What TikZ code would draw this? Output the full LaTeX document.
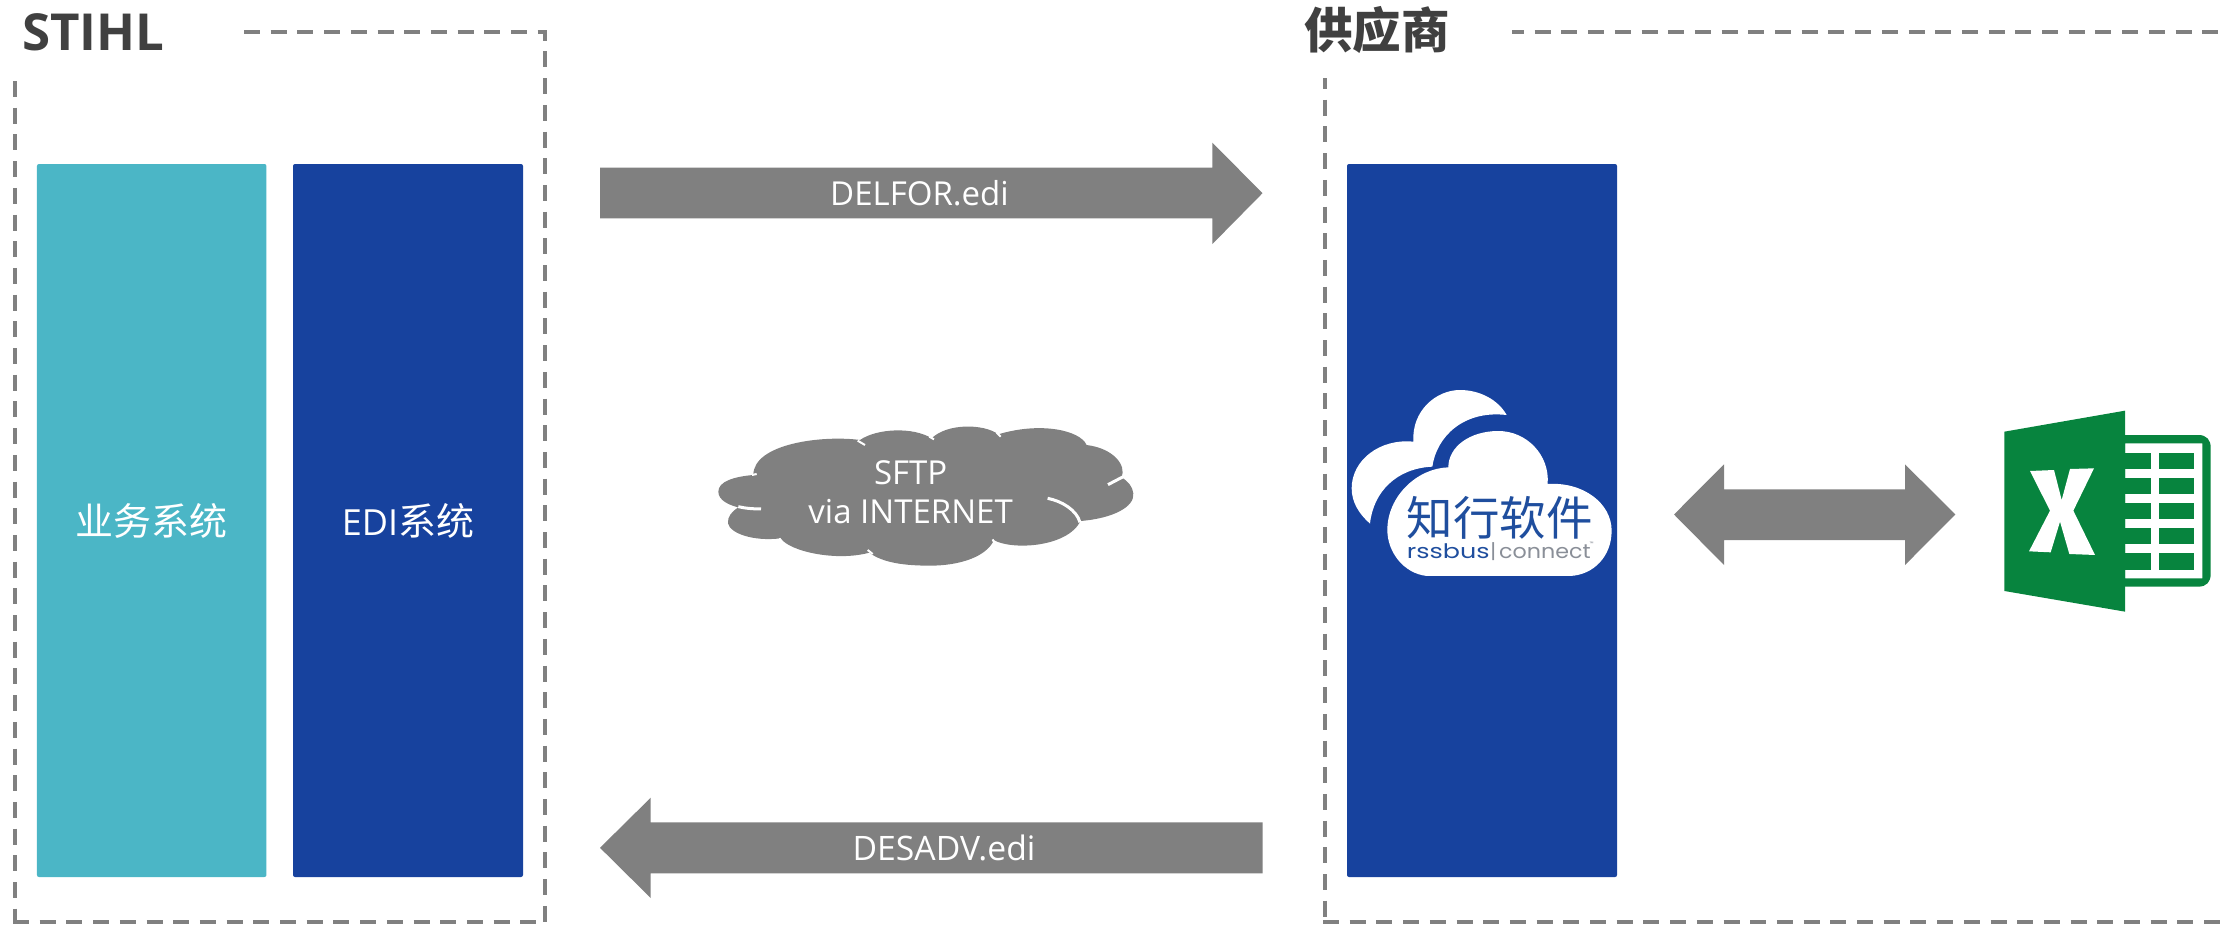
\documentclass[tikz,border=0pt]{standalone}
\usepackage{fontspec}
\setmainfont{Open Sans}
\newfontfamily\cjk{Noto Sans CJK SC}
\newfontfamily\logofont{Poppins}
\definecolor{frameGrey}{HTML}{808080}
\definecolor{titleGrey}{HTML}{404040}
\definecolor{tealBox}{HTML}{4BB6C6}
\definecolor{navyBox}{HTML}{17429E}
\definecolor{xlGreen}{HTML}{07843E}
\definecolor{logoBlue}{HTML}{1F4E9E}
\definecolor{logoGrey}{HTML}{8A8F98}
\tikzset{
  frameline/.style={draw=frameGrey,line width=4pt,dash pattern=on 16pt off 10.7pt},
  sysbox/.style={rounded corners=2pt,inner sep=0pt,text=white,font=\cjk\fontsize{38}{44}\selectfont},
  flowarrow/.style={fill=frameGrey,draw=none},
  arrowlabel/.style={anchor=base,text=white,inner sep=0pt,font=\fontsize{33}{40}\selectfont},
  titlelabel/.style={anchor=base west,inner sep=0pt,text=titleGrey},
  slit/.style={draw=white,line width=3pt},
  nick/.style={draw=white,line width=2pt},
  logotext/.style={inner sep=0pt,anchor=base west,font=\logofont\fontsize{20}{24}\selectfont}
}
\begin{document}
\begin{tikzpicture}[x=1pt,y=-1pt]
\useasboundingbox (0,0) rectangle (2221,924);
% frames
\draw[frameline] (244,32) -- (545,32) -- (545,922);
\draw[frameline] (15,81) -- (15,922);
\draw[frameline] (13,922) -- (540,922);
\draw[frameline,dash phase=4pt] (1512,32) -- (2221,32);
\draw[frameline,dash phase=5pt] (1325,78) -- (1325,920);
\draw[frameline] (1323,922) -- (2221,922);
% titles
\node[titlelabel,font=\bfseries\fontsize{51}{60}\selectfont] (stihl) at (22,50) {STIHL};
\node[titlelabel,font=\cjk\bfseries\fontsize{48.5}{56}\selectfont] (supplier) at (1304,48) {供应商};
% boxes
\node[sysbox,fill=tealBox,minimum width=229.5pt,minimum height=713pt] (biz) at (151.7,520.5) {业务系统};
\node[sysbox,fill=navyBox,minimum width=230pt,minimum height=713pt] (edi) at (408,520.5) {\fontspec{Open Sans}\fontsize{36}{44}\selectfont EDI\cjk\fontsize{38}{44}\selectfont 系统};
\node[sysbox,fill=navyBox,minimum width=270pt,minimum height=713pt] (conn) at (1482,520.5) {};
% arrows
\fill[flowarrow] (600,167.7) -- (1212.4,167.7) -- (1212.4,142.7) -- (1262.5,193.2) -- (1212.4,244) -- (1212.4,218.3) -- (600,218.3) -- cycle;
\node[arrowlabel] (delfor) at (919.5,205.7) {DELFOR.edi};
\fill[flowarrow] (1262.5,822.3) -- (650.7,822.3) -- (650.7,797.7) -- (600,847.8) -- (650.7,898) -- (650.7,873.3) -- (1262.5,873.3) -- cycle;
\node[arrowlabel,font=\fontsize{33.7}{40}\selectfont] (desadv) at (944,860) {DESADV.edi};
\fill[flowarrow] (1674,514.5) -- (1724,464.3) -- (1724,489.3) -- (1905,489.3) -- (1905,464.3) -- (1955.3,514.5) -- (1905,565) -- (1905,540) -- (1724,540) -- (1724,565) -- cycle;
% internet cloud
\begin{scope}[shift={(690,400)},x=0.3333pt,y=-0.3333pt]
\fill[frameGrey]
 (190,225) .. controls (130,230) and (85,245) .. (85,275)
 .. controls (85,300) and (115,315) .. (145,322)
 .. controls (125,335) and (112,350) .. (114,370)
 .. controls (120,400) and (190,425) .. (272,415)
 .. controls (300,455) and (440,485) .. (538,458)
 .. controls (580,490) and (650,497) .. (720,497)
 .. controls (810,497) and (890,470) .. (912,420)
 .. controls (960,450) and (1130,445) .. (1172,363)
 .. controls (1270,355) and (1335,320) .. (1330,280)
 .. controls (1328,260) and (1315,245) .. (1295,232)
 .. controls (1310,195) and (1270,145) .. (1190,135)
 .. controls (1170,90) and (1050,65) .. (925,103)
 .. controls (880,70) and (770,70) .. (725,115)
 .. controls (670,80) and (560,85) .. (510,120)
 .. controls (400,105) and (190,130) .. (190,225) -- cycle;
\draw[slit] (145,320) .. controls (165,325) and (190,327) .. (213,327);
\draw[slit] (1073,295) .. controls (1115,303) and (1160,330) .. (1170,367);
\draw[slit] (1254,254) -- (1298,231);
\draw[nick] (503,122) -- (525,135);
\draw[nick] (186,225) -- (200,222);
\draw[nick] (718,110) -- (732,118);
\draw[nick] (920,98) -- (932,110);
\draw[nick] (268,415) -- (280,432);
\draw[nick] (533,450) -- (548,462);
\draw[nick] (908,418) -- (918,438);
\node[text=white,inner sep=0pt,anchor=base,font=\fontsize{33}{40}\selectfont] (sftp) at (662,255) {SFTP};
\node[text=white,inner sep=0pt,anchor=base,font=\fontsize{33}{40}\selectfont] (via) at (662,372) {via INTERNET};
\end{scope}
% connector logo
\begin{scope}[shift={(1300,360)},x=0.3333pt,y=-0.3333pt]
\fill[white] (340,245) .. controls (335,150) and (410,90) .. (480,90)
 .. controls (540,90) and (595,120) .. (620,165)
 .. controls (490,150) and (410,230) .. (397,320)
 .. controls (290,325) and (220,395) .. (210,491)
 .. controls (175,460) and (155,425) .. (155,385)
 .. controls (155,300) and (240,235) .. (340,245) -- cycle;
\fill[white] (380,648) .. controls (310,640) and (262,575) .. (262,510)
 .. controls (262,410) and (350,325) .. (445,322)
 .. controls (445,260) and (510,213) .. (595,213)
 .. controls (680,213) and (750,285) .. (743,372)
 .. controls (850,365) and (935,430) .. (935,512)
 .. controls (935,590) and (880,645) .. (810,648) -- cycle;
\node[inner sep=0pt,text=logoBlue,font=\cjk\fontsize{46.5}{50}\selectfont] (zhixing) at (600,475) {知行软件};
\node[logotext,text=logoBlue] (rssbus) at (320,597) {\scalebox{1.27}[1]{rssbus}};
\node[logotext,anchor=base,text=logoGrey] (pipe) at (580,597) {|};
\node[logotext,text=logoGrey] (connect) at (597,597) {\scalebox{1.11}[1]{connect}};
\node[logotext,text=logoGrey,font=\logofont\fontsize{5}{6}\selectfont] (tm) at (868,558) {™};
\end{scope}
% excel icon
\begin{scope}[shift={(1980,390)},x=0.3333pt,y=-0.3333pt]
\fill[xlGreen,even odd rule,rounded corners=0pt]
 (435,135) -- (655,135) .. controls (680,135) and (692,150) .. (692,172) -- (692,553) .. controls (692,575) and (680,590) .. (655,590) -- (435,590) -- cycle
 (435,160) -- (435,565) -- (667,565) -- (667,160) -- cycle;
\foreach \ya/\yb in {188/237,265/313,340/388,415/463,490/540}{
  \fill[xlGreen] (435,\ya) rectangle (513,\yb);
  \fill[xlGreen] (538,\ya) rectangle (642,\yb);
}
\fill[xlGreen] (73,125) -- (435,62) -- (435,665) -- (73,603) -- cycle;
\fill[white] (150,243) -- (222,240) -- (245,330) -- (270,237) -- (342,235) -- (280,362) -- (345,495) -- (268,492) -- (240,395) -- (212,487) -- (147,484) -- (210,362) -- cycle;
\end{scope}
\end{tikzpicture}
\end{document}
